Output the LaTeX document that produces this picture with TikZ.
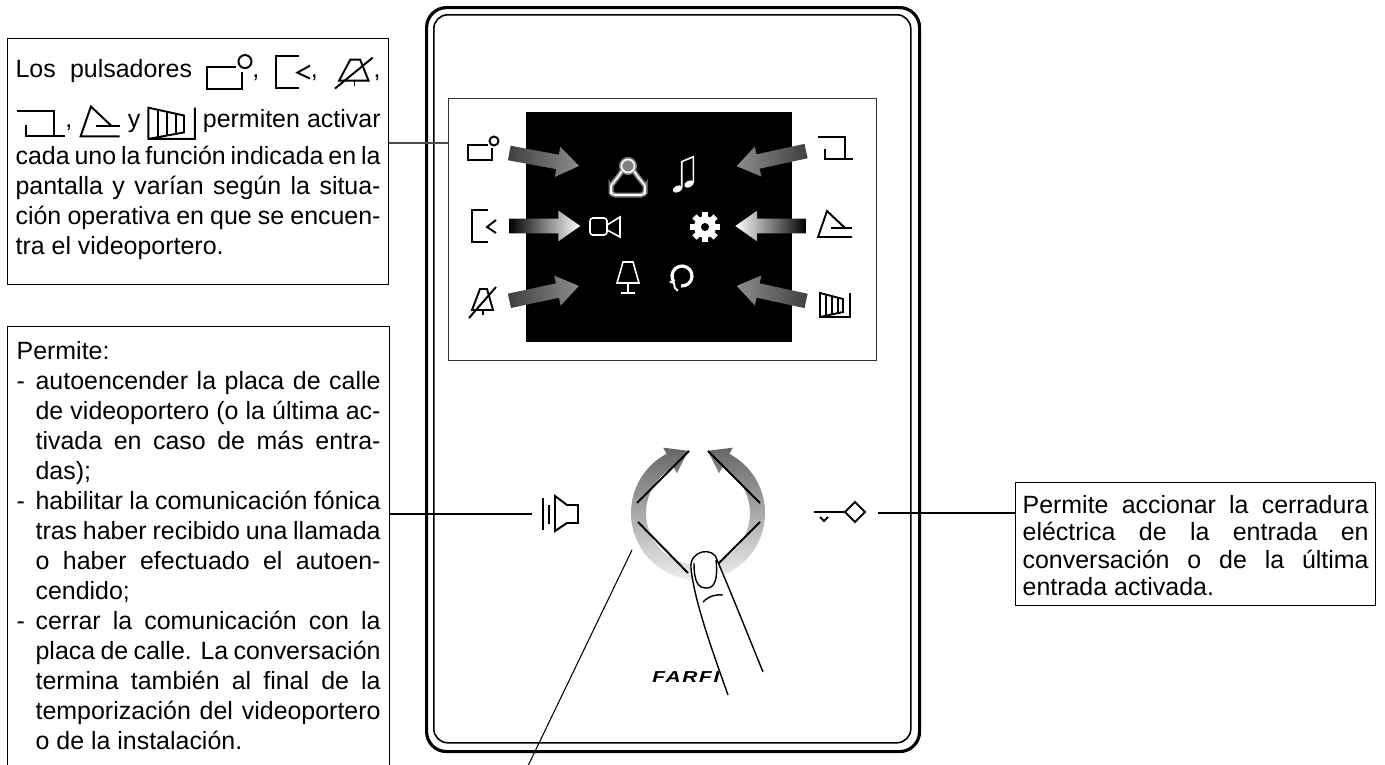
\documentclass[tikz,border=0pt]{standalone}
\usepackage{fontspec}
\setmainfont{Liberation Sans}
\usetikzlibrary{arrows.meta,calc,positioning,shapes.arrows}

\newlength\pxu
\setlength\pxu{0.02cm}

\newcommand\letra{\fontsize{14.2pt}{17.07pt}\selectfont\fontdimen4\font=0.15em\lineskiplimit=-100pt}
\newcommand\letrad{\fontsize{14.2pt}{15.55pt}\selectfont\fontdimen4\font=0.15em\lineskiplimit=-100pt}
\newcommand\guion{\par\noindent\hangindent=19\pxu\hangafter=1\makebox[19\pxu][l]{-}}

\tikzset{
  icono/.style={line width=1.1pt},
  blanco/.style={white, line width=1.6\pxu},
  pulsFoto/.pic={
    \draw[icono] (8,5) -- (-12,5) -- (-12,-10) -- (12,-10) -- (12,2);
    \draw[icono] (14,9) circle (4.5);
  },
  pulsAtras/.pic={
    \draw[icono] (4,16) -- (-12,16) -- (-12,-16) -- (4,-16);
    \draw[icono] (12,6) -- (3,-1) -- (12,-7);
  },
  pulsMudo/.pic={
    \draw[icono] (-3,13) -- (4,13) -- (10,-8) -- (-11,-8) -- cycle;
    \draw[icono] (0,-8) -- (0,-13);
    \draw[icono] (-14,-16) -- (13,15);
  },
  pulsArriba/.pic={
    \draw[icono] (-17,11) -- (10,11) -- (10,-11);
    \draw[icono] (-10,-1) -- (-10,-11) -- (18,-11);
  },
  pulsMenu/.pic={
    \draw[icono] (10,-3) -- (-8,14) -- (-17,-12) -- (17,-12);
    \draw[icono] (-4,-3) -- (17,-3);
  },
  pulsPuerta/.pic={
    \draw[icono] (15,12) -- (15,-12) -- (-15,-12) -- (-15,12) -- (8,6) -- (8,-7) -- (-15,-12);
    \foreach \x/\a/\b in {-9/10.4/-10.7,-3/8.9/-9.4,3/7.3/-8.1}
      \draw[icono] (\x,\a) -- (\x,\b);
  },
  altavoz/.pic={
    \draw[icono] (-19,16) -- (-19,-16) (-13,9.5) -- (-13,-9.5);
    \draw[icono] (-7,18) -- (5,9) -- (16,9) -- (16,-9) -- (5,-9) -- (-7,-17) -- cycle;
  },
  llave/.pic={
    \draw[icono] (-24,0) -- (7,0);
    \draw[icono] (7,0) -- (17,10) -- (27,0) -- (17,-10) -- cycle;
    \draw[icono] (-18,-5) -- (-14,-9) -- (-10,-5);
  },
  usuario/.pic={
    \foreach \c/\w in {black!50/5,white/1.6}{
      \draw[\c, line width=\w\pxu, rounded corners=4\pxu] (-6,9) .. controls (-11,1) and (-17,-5) .. (-17,-10) -- (-17,-15) -- (17,-15) -- (17,-10) .. controls (17,-5) and (11,1) .. (6,9);
      \draw[\c, line width=\w\pxu, fill=black!50] (0,14) circle (6.5);
    }
  },
  nota/.pic={
    \draw[blanco] (-1.3,-13) -- (-1.3,13.3) -- (10.3,18.3) -- (10.3,-8);
    \fill[white] (-5.5,-14) ellipse [x radius=5, y radius=3.3, rotate=25];
    \fill[white] (6,-9) ellipse [x radius=5, y radius=3.3, rotate=25];
  },
  camara/.pic={
    \draw[blanco, rounded corners=3\pxu] (-15,9) rectangle (2,-8);
    \draw[blanco] (2,2) -- (15,10) -- (15,-10) -- (2,-3);
  },
  engranaje/.pic={
    \foreach \a in {0,45,...,315}
      \fill[white, rotate=\a] (-3,8) rectangle (3,15);
    \fill[white] (0,0) circle (11);
    \fill[black] (0,0) circle (4);
  },
  lampara/.pic={
    \draw[blanco] (-5,16) -- (5,16) -- (11,-5) -- (-11,-5) -- cycle;
    \draw[blanco] (0,-5) -- (0,-15) (-7,-15) -- (7,-15);
  },
  refrescar/.pic={
    \draw[white, line width=3.2\pxu] (-95:10) arc[start angle=-95, end angle=215, radius=10];
    \draw[white, line width=2\pxu] (215:10) ++(-4,0) -- ++(4,-1) -- ++(1,-5) -- ++(3,-3);
  },
}

\newcommand\icoFoto{\tikz[x=1.45\pxu,y=1.45\pxu,baseline={(0,-3)}]\pic{pulsFoto};}
\newcommand\icoAtras{\tikz[x=1.4\pxu,y=\pxu,baseline={(0,-6)}]\pic{pulsAtras};}
\newcommand\icoMudo{\tikz[x=1.4\pxu,y=\pxu,baseline={(0,-5)}]\pic{pulsMudo};}
\newcommand\icoArriba{\tikz[x=1.37\pxu,y=1.13\pxu,baseline={(0,-4)}]\pic{pulsArriba};}
\newcommand\icoMenu{\tikz[x=1.15\pxu,y=1.15\pxu,baseline={(0,-5)}]\pic{pulsMenu};}
\newcommand\icoPuerta{\tikz[x=1.55\pxu,y=1.3\pxu,baseline={(0,-4.3)}]\pic{pulsPuerta};}

\begin{document}
\begin{tikzpicture}[x=\pxu, y=\pxu,
  caja/.style={draw, line width=0.7pt, inner xsep=8\pxu, inner ysep=0pt, align=justify, anchor=north west, font=\letra},
  leader/.style={line width=0.6pt},
  flecha/.style={single arrow, minimum height=71\pxu, inner xsep=0pt, inner ysep=7\pxu, single arrow head extend=8\pxu, single arrow tip angle=70, sloped, allow upside down},
  grisI/.style={left color=black!75, right color=black!45},
  grisD/.style={left color=black!45, right color=black!75},
  degradadoI/.style={left color=black, right color=white},
  degradadoD/.style={left color=white, right color=black},
  dedo/.style={line width=0.8pt},
  raya/.style={line width=1.1pt}]
\useasboundingbox (0,0) rectangle (1385,-764);

\node[draw, line width=1.8pt, rounded corners=20\pxu, minimum width=493\pxu, minimum height=744\pxu, anchor=north west] (marcoExt) at (425,-6) {};
\node[draw, line width=0.9pt, rounded corners=14\pxu, minimum width=477\pxu, minimum height=728\pxu, anchor=north west] (marcoInt) at (433,-14) {};
\node[draw=black!80, line width=0.6pt, minimum width=428\pxu, minimum height=262\pxu, anchor=north west] (visor) at (448,-98) {};
\node[fill=black, minimum width=266\pxu, minimum height=230\pxu, anchor=north west] (pantalla) at (526,-112) {};

\pic at (480,-150) {pulsFoto};
\pic at (484,-226) {pulsAtras};
\pic at (483,-302) {pulsMudo};
\pic at (835,-148) {pulsArriba};
\pic at (835,-225) {pulsMenu};
\pic at (835,-305) {pulsPuerta};

\pic at (628,-180) {usuario};
\pic at (683,-175) {nota};
\pic at (605,-227) {camara};
\pic at (705,-227) {engranaje};
\pic at (628,-278) {lampara};
\pic at (682,-276) {refrescar};

\coordinate (tTL) at (504,-152); \coordinate (hTL) at (574,-165);
\coordinate (tML) at (504,-226); \coordinate (hML) at (575,-226);
\coordinate (tBL) at (504,-302); \coordinate (hBL) at (574,-287);
\coordinate (tTR) at (811,-150); \coordinate (hTR) at (742,-165);
\coordinate (tMR) at (811,-226); \coordinate (hMR) at (741,-226);
\coordinate (tBR) at (811,-302); \coordinate (hBR) at (742,-287);
\path (tTL) -- node[flecha, grisI] (aTL) {} (hTL);
\path (tML) -- node[flecha, degradadoI] (aML) {} (hML);
\path (tBL) -- node[flecha, grisI] (aBL) {} (hBL);
\path (tTR) -- node[flecha, grisD] (aTR) {} (hTR);
\path (tMR) -- node[flecha, degradadoD] (aMR) {} (hMR);
\path (tBR) -- node[flecha, grisD] (aBR) {} (hBR);

\coordinate (rc) at (698,-513);
\shade[shift={(rc)}, top color=black!60, bottom color=black!3]
  (118:67) arc[start angle=118, end angle=422, radius=67] -- (422:74) -- (81:63) -- (422:45) -- (422:52)
  arc[start angle=422, end angle=118, radius=52] -- (118:45) -- (99:63) -- (118:74) -- cycle;
\draw[raya] (637,-503) -- (689,-451);
\draw[raya] (708,-451) -- (760,-503);
\draw[raya] (638,-522) -- (688,-573);
\draw[raya] (760,-522) -- (718,-564);

\node[font={\fontsize{9pt}{10pt}\selectfont\bfseries\itshape\addfontfeature{LetterSpace=8}}, anchor=west, inner sep=0pt] (marca) at (652,-677) {\scalebox{1.32}[1]{FARFI}};

\fill[white] (728,-695) .. controls (712,-650) and (694,-600) .. (691,-568) .. controls (689,-550) and (714,-546) .. (717,-560) .. controls (730,-590) and (750,-640) .. (763,-672) -- cycle;
\draw[dedo] (728,-695) .. controls (712,-650) and (694,-600) .. (691,-568) .. controls (689,-550) and (714,-546) .. (717,-560) .. controls (730,-590) and (750,-640) .. (763,-672);
\draw[dedo] (694,-563) .. controls (694,-584) and (699,-588) .. (707,-588) .. controls (715,-588) and (718,-578) .. (716,-560);
\draw[dedo] (703,-602) .. controls (709,-596) and (716,-594) .. (723,-595);

\pic at (562,-514) {altavoz};
\pic at (838,-512) {llave};

\node[caja, text width=365\pxu] (pulsa) at (7,-38) {\rule{0pt}{39\pxu}Los pulsadores \icoFoto, \icoAtras, \icoMudo,\vadjust{\vskip 20\pxu}\linebreak
\icoArriba, \icoMenu{} y \icoPuerta{} permiten activar\vadjust{\vskip 7\pxu}\linebreak
cada uno la función indicada en la\linebreak
pantalla y varían según la situa-\linebreak
ción operativa en que se encuen-\linebreak
tra el videoportero.\rule[-30\pxu]{0pt}{0pt}\par};

\node[caja, text width=364\pxu, inner xsep=9\pxu] (permite) at (7,-326) {\rule{0pt}{33\pxu}Permite:
\guion autoencender la placa de calle\linebreak de videoportero (o la última ac-\linebreak tivada en caso de más entra-\linebreak das);
\guion habilitar la comunicación fónica\linebreak tras haber recibido una llamada\linebreak o haber efectuado el autoen-\linebreak cendido;
\guion cerrar la comunicación con la\linebreak placa de calle. La conversación\linebreak termina también al final de la\linebreak temporización del videoportero\linebreak o de la instalación.\rule[-40\pxu]{0pt}{0pt}\par};

\node[caja, font=\letrad, text width=346\pxu, inner xsep=7\pxu] (cerradura) at (1015,-482) {\rule{0pt}{31\pxu}Permite accionar la cerradura\linebreak eléctrica de la entrada en\linebreak conversación o de la última\linebreak entrada activada.\rule[-10\pxu]{0pt}{0pt}};

\coordinate (mA) at (visor.west |- 0,-143);
\draw[leader, black!70] (pulsa.east |- mA) -- (mA);
\coordinate (altI) at (532,-514);
\draw[leader] (permite.east |- altI) -- (altI);
\coordinate (llaveD) at (878,-513);
\draw[leader] (llaveD) -- (cerradura.west |- llaveD);
\coordinate (aroP) at (632,-550);
\coordinate (aroF) at (526,-770);
\draw[leader] (aroP) -- (aroF);
\end{tikzpicture}
\end{document}
